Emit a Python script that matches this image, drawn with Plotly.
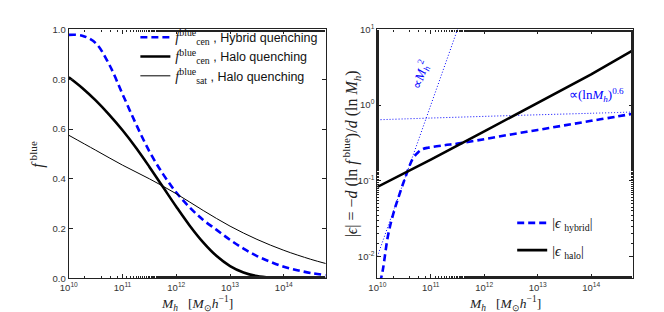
import plotly.graph_objects as go

# ---------------- data ----------------
# left panel: blue fractions vs log10(M_h)
logm_hybrid = [10.0, 10.25, 10.5, 10.75, 11.0, 11.25, 11.5, 11.75, 12.0, 12.25, 12.5,
               12.75, 13.0, 13.25, 13.5, 13.75, 14.0, 14.25, 14.5, 14.78]
f_cen_hybrid = [0.978, 0.975, 0.945, 0.86, 0.74, 0.62, 0.51, 0.42, 0.345, 0.285, 0.235,
                0.195, 0.155, 0.12, 0.09, 0.067, 0.047, 0.033, 0.022, 0.013]

logm_halo = [10.0, 10.25, 10.5, 10.75, 11.0, 11.25, 11.5, 11.75, 12.0, 12.25, 12.5,
             12.75, 13.0, 13.25, 13.5, 13.75, 14.0, 14.4, 14.78]
f_cen_halo = [0.808, 0.765, 0.715, 0.658, 0.595, 0.525, 0.448, 0.368, 0.288, 0.212, 0.145,
              0.09, 0.05, 0.024, 0.0095, 0.003, 0.0008, 0.0, 0.0]

logm_sat = [10.0, 10.5, 11.0, 11.5, 12.0, 12.5, 13.0, 13.5, 14.0, 14.5, 14.78]
f_sat_halo = [0.575, 0.515, 0.455, 0.40, 0.34, 0.273, 0.21, 0.157, 0.113, 0.077, 0.06]

# right panel: |epsilon| vs log10(M_h)
logm_eps_hybrid = [10.05, 10.1, 10.2, 10.3, 10.4, 10.5, 10.58, 10.66, 10.76, 10.85, 10.95,
                   11.25, 11.5, 12.0, 12.5, 13.0, 13.5, 14.0, 14.5, 14.78]
eps_hybrid = [0.0045, 0.0065, 0.019, 0.037, 0.062, 0.10, 0.143, 0.195, 0.237, 0.262, 0.274,
              0.295, 0.31, 0.355, 0.41, 0.47, 0.54, 0.62, 0.71, 0.77]

logm_eps_halo = [10.0, 11.0, 12.0, 13.0, 14.0, 14.78]
eps_halo = [0.083, 0.19, 0.45, 1.07, 2.55, 5.3]

logm_m2 = [10.0, 11.5]
guide_m2 = [0.01, 10.0]

logm_ln = [10.0, 11.0, 12.0, 13.0, 14.0, 14.78]
guide_ln = [0.64, 0.675, 0.71, 0.745, 0.78, 0.81]

x_range = [10.0, 14.78]
y2_range = [-2.29, 1.0]
f_ticks = [0.0, 0.2, 0.4, 0.6, 0.8, 1.0]
x_tickvals = [1e10, 1e11, 1e12, 1e13, 1e14]
x_ticktext = ["10<sup>10</sup>", "10<sup>11</sup>", "10<sup>12</sup>", "10<sup>13</sup>", "10<sup>14</sup>"]
y2_tickvals = [1e-2, 1e-1, 1e0, 1e1]
y2_ticktext = ["10<sup>-2</sup>", "10<sup>-1</sup>", "10<sup>0</sup>", "10<sup>1</sup>"]

BLUE = "#0000ff"
SERIF = "Liberation Serif"
SANS = "Liberation Sans"


def mx(v):
    return [10 ** a for a in v]


fig = go.Figure()

serif_span = '<span style="font-family:Liberation Serif;font-size:14px">'

fig.add_trace(go.Scatter(
    x=mx(logm_hybrid), y=f_cen_hybrid, mode="lines", line_shape="spline",
    line=dict(color=BLUE, width=2.6, dash="7px,4px"), legendgroup="a",
    name=serif_span + "<i>f</i><sup>blue</sup><sub>cen</sub></span> , Hybrid quenching",
    xaxis="x", yaxis="y", legend="legend"))
fig.add_trace(go.Scatter(
    x=mx(logm_halo), y=f_cen_halo, mode="lines", line_shape="spline",
    line=dict(color="black", width=2.6), legendgroup="b",
    name=serif_span + "<i>f</i><sup>blue</sup><sub>cen</sub></span> , Halo quenching",
    xaxis="x", yaxis="y", legend="legend"))
fig.add_trace(go.Scatter(
    x=mx(logm_sat), y=f_sat_halo, mode="lines", line_shape="spline",
    line=dict(color="black", width=1), legendgroup="c",
    name=serif_span + "<i>f</i><sup>blue</sup><sub>sat</sub></span> , Halo quenching",
    xaxis="x", yaxis="y", legend="legend"))

# right panel guides
fig.add_trace(go.Scatter(
    x=mx(logm_m2), y=guide_m2, mode="lines",
    line=dict(color=BLUE, width=1, dash="1px,2px"),
    showlegend=False, xaxis="x2", yaxis="y2"))
fig.add_trace(go.Scatter(
    x=mx(logm_ln), y=guide_ln, mode="lines", line_shape="spline",
    line=dict(color=BLUE, width=1, dash="1px,2px"),
    showlegend=False, xaxis="x2", yaxis="y2"))

fig.add_trace(go.Scatter(
    x=mx(logm_eps_hybrid), y=eps_hybrid, mode="lines", line_shape="spline",
    line=dict(color=BLUE, width=2.6, dash="7px,4px"), legendgroup="d",
    name="|<i>ϵ</i> <sub>hybrid</sub>|", xaxis="x2", yaxis="y2", legend="legend2"))
fig.add_trace(go.Scatter(
    x=mx(logm_eps_halo), y=eps_halo, mode="lines",
    line=dict(color="black", width=2.6), legendgroup="e",
    name="|<i>ϵ</i> <sub>halo</sub>|", xaxis="x2", yaxis="y2", legend="legend2"))

axis_common = dict(
    showline=True, linecolor="#222", linewidth=1.2, mirror="allticks",
    ticks="inside", ticklen=4, tickcolor="#222", showgrid=False, zeroline=False,
    tickfont=dict(family=SANS, size=9.5, color="#333"),
)
minor = dict(ticks="inside", ticklen=2, tickcolor="#222", showgrid=False)
log_x = dict(axis_common, type="log", range=x_range, tickvals=x_tickvals,
             ticktext=x_ticktext, minor=minor)

X0L, X1L = 52.5 / 664, 313 / 664
X0R, X1R = 365.3 / 664, 624.3 / 664
Y0, Y1 = 1 - 274 / 312, 1 - 15 / 312

fig.update_layout(
    width=664, height=312,
    margin=dict(l=0, r=0, t=0, b=0),
    paper_bgcolor="white", plot_bgcolor="white",
    xaxis=dict(log_x, domain=[X0L, X1L], anchor="y"),
    yaxis=dict(axis_common, domain=[Y0, Y1], range=[0, 1], tickvals=f_ticks,
               tickformat=".1f", anchor="x"),
    xaxis2=dict(log_x, domain=[X0R, X1R], anchor="y2"),
    yaxis2=dict(axis_common, type="log", range=y2_range, domain=[Y0, Y1], anchor="x2",
                tickvals=y2_tickvals, ticktext=y2_ticktext, minor=minor),
    legend=dict(x=120 / 664, y=1 - 8 / 312, xanchor="left", yanchor="top",
                bgcolor="rgba(0,0,0,0)", font=dict(family=SANS, size=12.5, color="#111"),
                tracegroupgap=0, itemwidth=30),
    legend2=dict(x=502 / 664, y=1 - 200 / 312, xanchor="left", yanchor="top",
                 bgcolor="rgba(0,0,0,0)", font=dict(family=SERIF, size=14, color="#111"),
                 tracegroupgap=6, itemwidth=30),
    showlegend=True,
)

title_font = dict(family=SERIF, size=13.5, color="#222")
xt = "<i>M<sub>h</sub></i>   [<i>M</i><sub>⊙</sub><i>h</i><sup>−1</sup>]"
annotations = [
    dict(text=xt, x=(X0L + X1L) / 2, y=1 - 300 / 312, xref="paper", yref="paper",
         showarrow=False, font=title_font, xanchor="center", yanchor="middle"),
    dict(text=xt, x=(X0R + X1R) / 2, y=1 - 300 / 312, xref="paper", yref="paper",
         showarrow=False, font=title_font, xanchor="center", yanchor="middle"),
    dict(text="<i>f</i><sup> blue</sup>", x=21 / 664, y=(Y0 + Y1) / 2, xref="paper", yref="paper",
         showarrow=False, font=dict(family=SERIF, size=16, color="#222"), textangle=-90,
         xanchor="center", yanchor="middle"),
    dict(text="|<i>ϵ</i>| = −<i>d</i> (ln <i>f</i><sup> blue</sup>)/<i>d</i> (ln <i>M<sub>h</sub></i>)",
         x=339 / 664, y=(Y0 + Y1) / 2, xref="paper", yref="paper",
         showarrow=False, font=dict(family=SERIF, size=16, color="#222"), textangle=-90,
         xanchor="center", yanchor="middle"),
    dict(text="∝<i>M<sub>h</sub></i><sup>2</sup>", x=10.8, y=0.4, xref="x2", yref="y2",
         showarrow=False, font=dict(family=SERIF, size=13, color=BLUE), textangle=-71,
         xanchor="center", yanchor="middle"),
    dict(text="∝(ln<i>M<sub>h</sub></i>)<sup>0.6</sup>", x=14.1, y=0.14, xref="x2", yref="y2",
         showarrow=False, font=dict(family=SERIF, size=13, color=BLUE),
         xanchor="center", yanchor="middle"),
]
fig.update_layout(annotations=annotations)

fig.write_html("out.html")
